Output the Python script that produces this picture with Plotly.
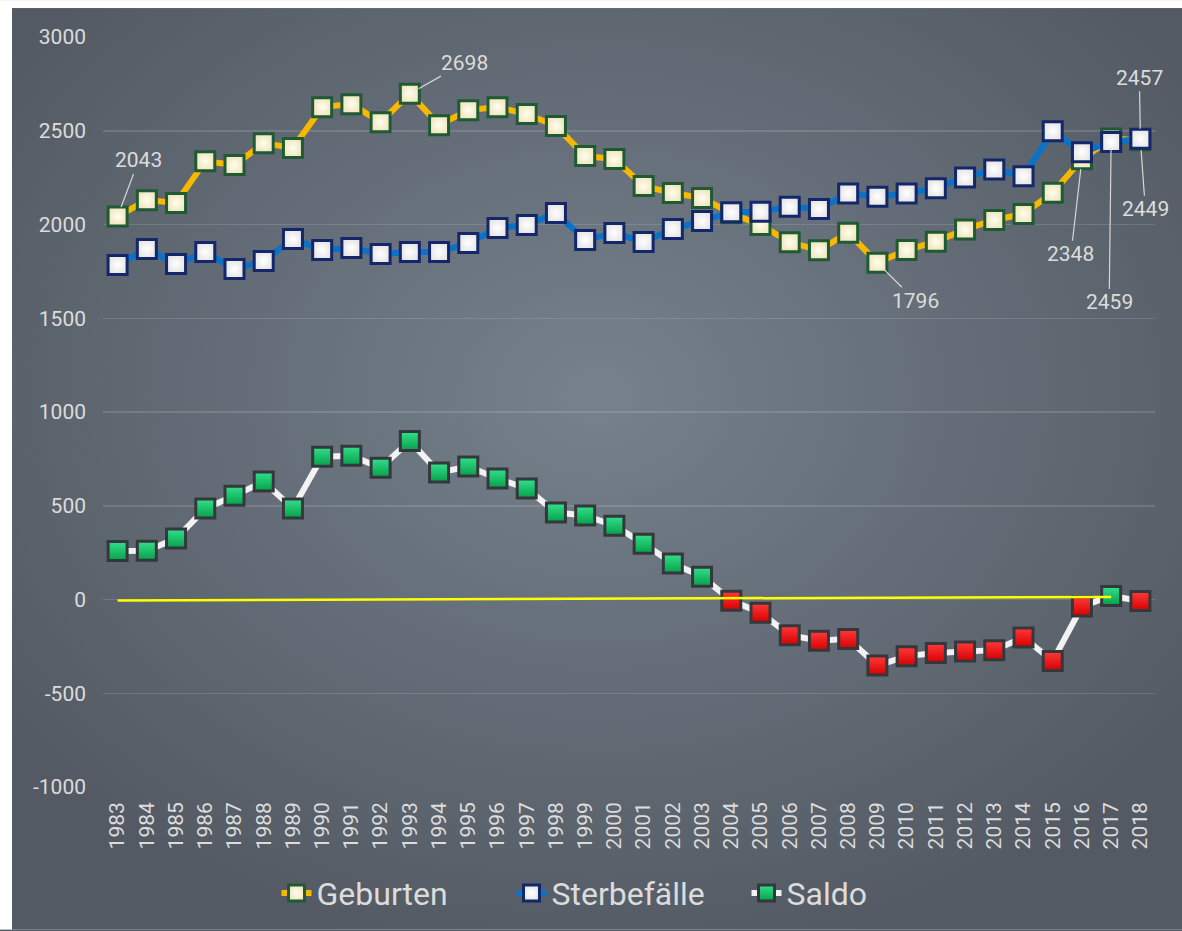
import base64
import plotly.graph_objects as go

# ---------------- data ----------------
years = list(range(1983, 2019))
geburten = [2043, 2130, 2115, 2338, 2317, 2434, 2408, 2626, 2642, 2546,
            2698, 2530, 2610, 2626, 2589, 2525, 2365, 2349, 2205, 2168,
            2141, 2060, 1998, 1905, 1863, 1956, 1796, 1864, 1908, 1974,
            2024, 2056, 2170, 2348, 2459, 2449]
sterbefaelle = [1784, 1870, 1790, 1853, 1763, 1805, 1923, 1864, 1875, 1843,
                1853, 1853, 1901, 1981, 1997, 2061, 1917, 1955, 1907, 1976,
                2019, 2066, 2068, 2095, 2083, 2166, 2148, 2166, 2193, 2251,
                2294, 2258, 2498, 2385, 2440, 2457]
saldo = [259, 260, 325, 485, 554, 629, 485, 762, 767, 703,
         845, 677, 709, 645, 592, 464, 448, 394, 298, 192,
         122, -6, -70, -190, -220, -210, -352, -302, -285, -277,
         -270, -202, -328, -37, 19, -8]
zero_line_x = [1983, 2017]
zero_line_y = [-5, 14]
y_ticks = [-1000, -500, 0, 500, 1000, 1500, 2000, 2500, 3000]
y_ticktext = ["-1000", "-500", "0", "500", "1000", "1500", "2000", "2500", "3000"]
labels = [  # (year, value, dx, dy)
    (1983, 2043, 21, -56),
    (1993, 2698, 55, -31),
    (2009, 1796, 38, 38),
    (2016, 2348, -11, 95),
    (2017, 2459, -2, 164),
    (2018, 2449, 5, 69),
    (2018, 2457, -1, -61),
]

W, H = 1182, 931
ML, MR, MT, MB = 103, 27, 37, 143
PW, PH = W - ML - MR, H - MT - MB

FONT = "Roboto"
TXT = "#dcdcdc"
EDGE = "#555c66"

svg = f'''<svg xmlns="http://www.w3.org/2000/svg" width="{W}" height="{H}" viewBox="0 0 {W} {H}" preserveAspectRatio="none">
<defs><radialGradient id="g" cx="50%" cy="42%" r="62%">
<stop offset="0%" stop-color="#76818b"/>
<stop offset="100%" stop-color="#535a64"/>
</radialGradient></defs>
<rect x="0" y="0" width="{W}" height="{H}" fill="#ffffff"/>
<rect x="12" y="8" width="{W-12}" height="{H-8}" fill="url(#g)"/>
</svg>'''
svg_uri = "data:image/svg+xml;base64," + base64.b64encode(svg.encode()).decode()

fig = go.Figure()

fig.add_trace(go.Scatter(
    x=years, y=geburten, name="Geburten", mode="lines+markers",
    line=dict(color="#f7b900", width=6),
    marker=dict(symbol="square", size=19, color="#efe7bd",
                gradient=dict(type="radial", color="#fffdf0"),
                line=dict(color="#1f5a34", width=3)),
))
fig.add_trace(go.Scatter(
    x=years, y=sterbefaelle, name="Sterbefälle", mode="lines+markers",
    line=dict(color="#0a72c8", width=6),
    marker=dict(symbol="square", size=19, color="#e6e6e6",
                gradient=dict(type="radial", color="#ffffff"),
                line=dict(color="#13276a", width=3)),
))
saldo_top = ["#35e08c" if v >= 0 else "#ff3a3a" for v in saldo]
saldo_bottom = ["#05a04a" if v >= 0 else "#d80000" for v in saldo]
fig.add_trace(go.Scatter(
    x=years, y=saldo, name="Saldo", mode="lines+markers",
    line=dict(color="#f2f2f2", width=6),
    marker=dict(symbol="square", size=19, color=saldo_top,
                gradient=dict(type="vertical", color=saldo_bottom),
                line=dict(color="#34383d", width=3)),
))
fig.add_trace(go.Scatter(
    x=zero_line_x, y=zero_line_y, mode="lines", showlegend=False,
    hoverinfo="skip", line=dict(color="#ffff00", width=2.5),
))

for (yr, v, dx, dy) in labels:
    fig.add_annotation(
        x=yr, y=v, xref="x", yref="y", text=str(v), showarrow=True,
        arrowhead=0, arrowwidth=1.2, arrowcolor="#d6d6d6", standoff=10,
        ax=dx, ay=dy, font=dict(family=FONT, size=21, color=TXT),
    )

fig.add_layout_image(dict(
    source=svg_uri, xref="paper", yref="paper",
    x=-ML / PW, y=1 + MT / PH, sizex=W / PW, sizey=H / PH,
    xanchor="left", yanchor="top", sizing="stretch", layer="below",
))

fig.update_layout(
    width=W, height=H,
    margin=dict(l=ML, r=MR, t=MT, b=MB, pad=0),
    paper_bgcolor=EDGE, plot_bgcolor="rgba(0,0,0,0)",
    font=dict(family=FONT, color=TXT, size=21),
    showlegend=True,
    legend=dict(orientation="h", x=0.5, xanchor="center", y=-0.14,
                yanchor="middle", font=dict(family=FONT, size=32, color=TXT),
                bgcolor="rgba(0,0,0,0)", tracegroupgap=0,
                entrywidth=190, entrywidthmode="pixels"),
    hovermode=False,
)
fig.update_xaxes(
    range=[1982.5, 2018.5], tickmode="array", tickvals=years,
    ticktext=[str(y) for y in years], tickangle=-90,
    showgrid=False, zeroline=False, showline=False, ticks="",
    ticklabelstandoff=10, tickfont=dict(family=FONT, size=21, color=TXT),
)
fig.update_yaxes(
    range=[-1000, 3000], tickmode="array", tickvals=y_ticks, ticktext=y_ticktext,
    showgrid=True, gridcolor="rgba(255,255,255,0.13)", gridwidth=1.5,
    zeroline=False, showline=False, ticks="",
    ticklabelstandoff=16, tickfont=dict(family=FONT, size=21, color=TXT),
)

fig.write_html(
    "out.html",
    config={"displayModeBar": False, "staticPlot": True},
    post_script=("document.documentElement.style.margin='0';"
                 "document.documentElement.style.overflow='hidden';"
                 "document.documentElement.style.background='" + EDGE + "';"
                 "document.body.style.margin='0';"
                 "document.body.style.overflow='hidden';"
                 "document.body.style.background='" + EDGE + "';"),
)
